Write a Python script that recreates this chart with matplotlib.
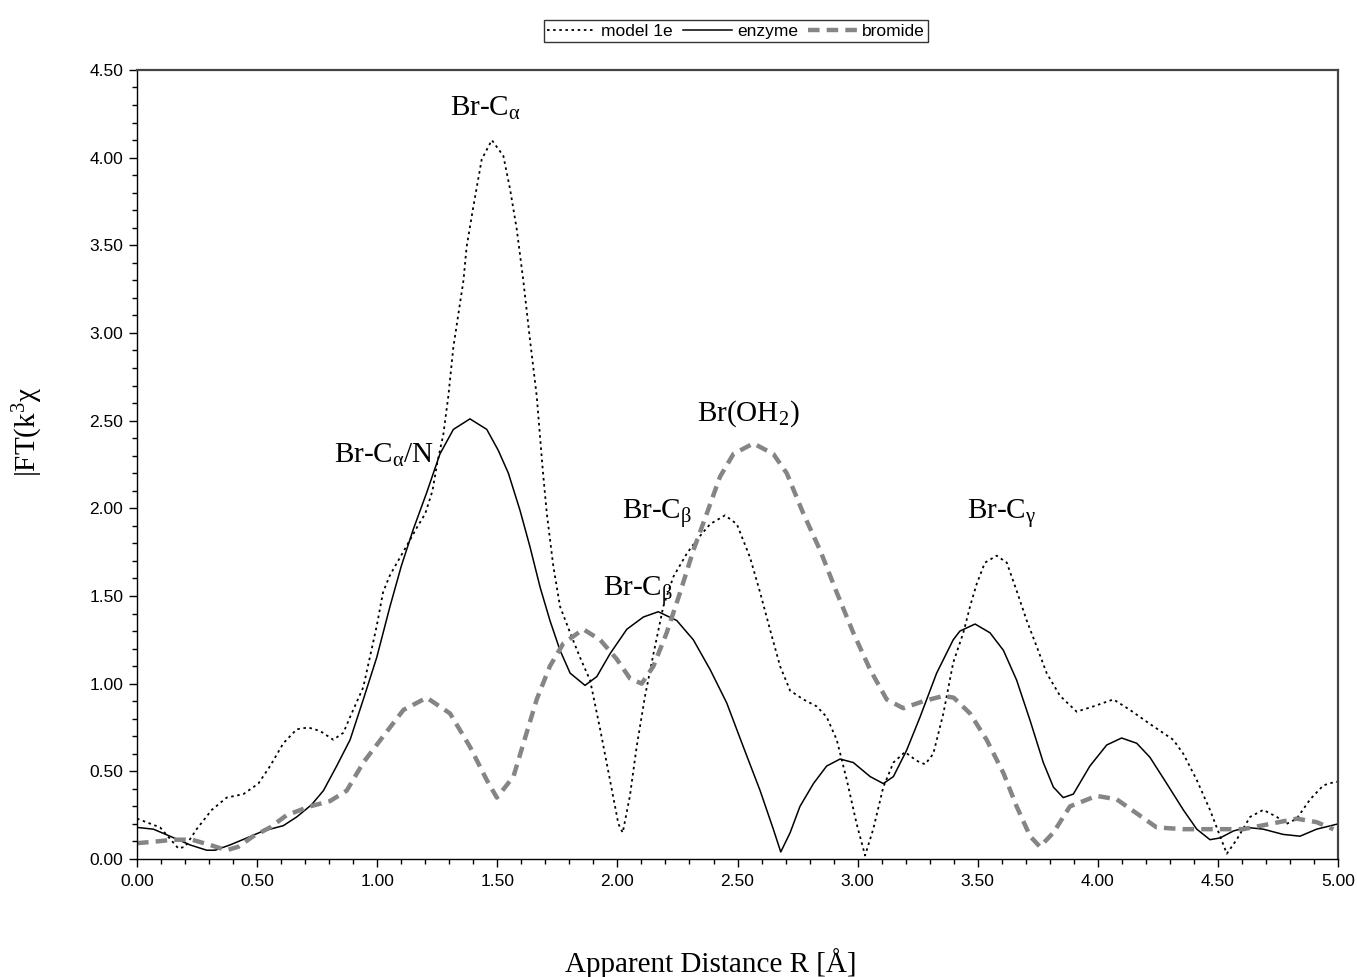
import numpy as np
import matplotlib
matplotlib.use("Agg")
import matplotlib.pyplot as plt
from matplotlib.ticker import MultipleLocator, FormatStrFormatter

plt.rcParams['font.family'] = ['Liberation Sans', 'DejaVu Sans']
plt.rcParams['mathtext.fontset'] = 'custom'
plt.rcParams['mathtext.rm'] = 'Liberation Serif'
plt.rcParams['mathtext.it'] = 'Liberation Serif:italic'
plt.rcParams['mathtext.bf'] = 'Liberation Serif:bold'

# model 1e (dotted)
model_r = [0.00, 0.096, 0.172, 0.20, 0.248, 0.311, 0.373, 0.443, 0.505, 0.554,
           0.609, 0.665, 0.713, 0.762, 0.817, 0.859, 0.887, 0.942, 0.998, 1.024,
           1.05, 1.07, 1.12, 1.165, 1.20, 1.23, 1.25, 1.275, 1.296, 1.317,
           1.338, 1.359, 1.372, 1.400, 1.435, 1.477, 1.525, 1.553, 1.581, 1.608,
           1.636, 1.664, 1.689, 1.706, 1.733, 1.761, 1.803, 1.844, 1.886, 1.928,
           1.969, 2.004, 2.022, 2.052, 2.080, 2.115, 2.150, 2.191, 2.233, 2.288,
           2.330, 2.386, 2.448, 2.497, 2.552, 2.594, 2.635, 2.677, 2.719, 2.774,
           2.830, 2.871, 2.913, 2.955, 2.996, 3.031, 3.065, 3.107, 3.149, 3.197,
           3.246, 3.281, 3.315, 3.357, 3.398, 3.440, 3.470, 3.496, 3.530, 3.579,
           3.621, 3.662, 3.704, 3.746, 3.787, 3.843, 3.912, 3.981, 4.065, 4.134,
           4.217, 4.314, 4.356, 4.412, 4.467, 4.509, 4.537, 4.578, 4.634, 4.689,
           4.745, 4.786, 4.828, 4.884, 4.939, 4.988, 5.00]
model_ft = [0.23, 0.18, 0.06, 0.07, 0.17, 0.28, 0.35, 0.37, 0.43, 0.53,
            0.66, 0.74, 0.75, 0.73, 0.68, 0.72, 0.81, 0.98, 1.33, 1.52,
            1.61, 1.66, 1.78, 1.89, 1.97, 2.10, 2.26, 2.42, 2.64, 2.92,
            3.11, 3.30, 3.49, 3.72, 3.99, 4.10, 4.01, 3.82, 3.59, 3.30,
            2.96, 2.64, 2.22, 1.97, 1.67, 1.44, 1.29, 1.15, 1.02, 0.74,
            0.45, 0.20, 0.15, 0.36, 0.64, 0.93, 1.17, 1.44, 1.61, 1.74,
            1.82, 1.91, 1.96, 1.91, 1.72, 1.52, 1.31, 1.10, 0.96, 0.91,
            0.87, 0.81, 0.68, 0.45, 0.20, 0.02, 0.17, 0.41, 0.55, 0.61,
            0.56, 0.54, 0.60, 0.83, 1.12, 1.29, 1.45, 1.57, 1.69, 1.73,
            1.69, 1.53, 1.36, 1.21, 1.06, 0.93, 0.84, 0.87, 0.91, 0.85,
            0.77, 0.68, 0.60, 0.45, 0.28, 0.13, 0.03, 0.11, 0.24, 0.28,
            0.24, 0.20, 0.23, 0.34, 0.42, 0.44, 0.44]

# enzyme (solid)
enzyme_r = [0.00, 0.068, 0.137, 0.221, 0.290, 0.325, 0.387, 0.457, 0.526, 0.609,
            0.665, 0.727, 0.776, 0.831, 0.887, 0.942, 0.998, 1.053, 1.10, 1.150,
            1.206, 1.261, 1.317, 1.386, 1.456, 1.504, 1.546, 1.594, 1.636, 1.678,
            1.719, 1.761, 1.803, 1.865, 1.914, 1.969, 2.039, 2.108, 2.170, 2.247,
            2.316, 2.386, 2.455, 2.524, 2.594, 2.649, 2.680, 2.719, 2.760, 2.816,
            2.871, 2.927, 2.982, 3.052, 3.107, 3.149, 3.204, 3.260, 3.329, 3.398,
            3.426, 3.489, 3.551, 3.607, 3.662, 3.718, 3.773, 3.815, 3.856, 3.898,
            3.967, 4.037, 4.099, 4.162, 4.217, 4.287, 4.356, 4.412, 4.467, 4.509,
            4.565, 4.620, 4.689, 4.772, 4.842, 4.911, 5.00]
enzyme_ft = [0.18, 0.17, 0.13, 0.08, 0.05, 0.05, 0.08, 0.12, 0.16, 0.19,
             0.24, 0.31, 0.39, 0.53, 0.68, 0.91, 1.15, 1.44, 1.67, 1.88,
             2.09, 2.31, 2.45, 2.51, 2.45, 2.33, 2.20, 1.99, 1.78, 1.55,
             1.36, 1.19, 1.06, 0.99, 1.04, 1.17, 1.31, 1.38, 1.41, 1.36,
             1.25, 1.08, 0.89, 0.64, 0.39, 0.17, 0.04, 0.15, 0.30, 0.43,
             0.53, 0.57, 0.55, 0.47, 0.43, 0.47, 0.62, 0.81, 1.06, 1.25,
             1.30, 1.34, 1.29, 1.19, 1.02, 0.79, 0.55, 0.41, 0.35, 0.37,
             0.53, 0.65, 0.69, 0.66, 0.58, 0.43, 0.28, 0.17, 0.11, 0.12,
             0.16, 0.18, 0.17, 0.14, 0.13, 0.17, 0.20]

# bromide (grey dashed)
bromide_r = [0.00, 0.082, 0.151, 0.228, 0.304, 0.373, 0.422, 0.484, 0.554, 0.623,
             0.720, 0.803, 0.873, 0.942, 1.025, 1.109, 1.206, 1.303, 1.386, 1.456,
             1.498, 1.567, 1.622, 1.664, 1.719, 1.775, 1.858, 1.928, 1.997, 2.052,
             2.101, 2.150, 2.205, 2.261, 2.316, 2.372, 2.427, 2.483, 2.566, 2.649,
             2.705, 2.774, 2.844, 2.913, 2.982, 3.052, 3.121, 3.190, 3.274, 3.357,
             3.40, 3.468, 3.537, 3.607, 3.662, 3.718, 3.759, 3.815, 3.884, 3.995,
             4.079, 4.162, 4.245, 4.356, 4.495, 4.606, 4.717, 4.828, 4.911, 4.981]
bromide_ft = [0.09, 0.10, 0.11, 0.11, 0.08, 0.05, 0.07, 0.13, 0.18, 0.25,
              0.30, 0.33, 0.39, 0.55, 0.70, 0.85, 0.92, 0.83, 0.64, 0.45,
              0.35, 0.47, 0.72, 0.91, 1.10, 1.23, 1.31, 1.25, 1.14, 1.03,
              1.00, 1.10, 1.29, 1.52, 1.76, 1.97, 2.18, 2.31, 2.37, 2.31,
              2.20, 1.97, 1.76, 1.52, 1.29, 1.08, 0.91, 0.86, 0.90, 0.93,
              0.92, 0.83, 0.68, 0.49, 0.30, 0.13, 0.07, 0.15, 0.30, 0.36,
              0.34, 0.26, 0.18, 0.17, 0.17, 0.17, 0.20, 0.23, 0.21, 0.17]

# peak labels
peak_labels = [r'Br-C$_{\mathrm{\alpha}}$', r'Br-C$_{\mathrm{\alpha}}$/N', r'Br(OH$_{2}$)',
               r'Br-C$_{\mathrm{\beta}}$', r'Br-C$_{\mathrm{\beta}}$', r'Br-C$_{\mathrm{\gamma}}$']
peak_r = [1.449, 1.03, 2.544, 2.165, 2.086, 3.60]
peak_ft = [4.28, 2.30, 2.54, 1.97, 1.53, 1.97]

fig = plt.figure(figsize=(13.57, 9.77), dpi=100)
ax = fig.add_axes([0.101, 0.1208, 0.885, 0.8076])

l1, = ax.plot(model_r, model_ft, color='black', lw=1.3, linestyle=(0, (1.4, 2.0)))
l2, = ax.plot(enzyme_r, enzyme_ft, color='black', lw=1.1)
l3, = ax.plot(bromide_r, bromide_ft, color='#858585', lw=3.2, linestyle=(0, (2.6, 1.6)))

for txt, xr, yf in zip(peak_labels, peak_r, peak_ft):
    ax.text(xr, yf, txt, family='Liberation Serif', fontsize=21, ha='center', va='center')

ax.set_xlim(0, 5)
ax.set_ylim(0, 4.5)
ax.xaxis.set_major_locator(MultipleLocator(0.5))
ax.xaxis.set_minor_locator(MultipleLocator(0.1))
ax.yaxis.set_major_locator(MultipleLocator(0.5))
ax.yaxis.set_minor_locator(MultipleLocator(0.1))
ax.xaxis.set_major_formatter(FormatStrFormatter('%.2f'))
ax.yaxis.set_major_formatter(FormatStrFormatter('%.2f'))
ax.tick_params(which='major', direction='out', length=6, width=1, labelsize=12.5, pad=5)
ax.tick_params(which='minor', direction='out', length=3.5, width=1)
ax.tick_params(axis='y', which='major', pad=4)

for s in ['top', 'right']:
    ax.spines[s].set_color('#444444')
    ax.spines[s].set_linewidth(1.6)
for s in ['left', 'bottom']:
    ax.spines[s].set_color('black')
    ax.spines[s].set_linewidth(1.0)

fig.text(711 / 1357, 1 - 963 / 977, 'Apparent Distance R [Å]', family='Liberation Serif',
         fontsize=21, ha='center', va='center')
fig.text(28 / 1357, 1 - 432 / 977, r'|FT(k$^{3}$$\mathrm{\chi}$', family='Liberation Serif',
         fontsize=21, ha='center', va='center', rotation=90)

leg = fig.legend([l1, l2, l3], ['model 1e', 'enzyme', 'bromide'], loc='center',
                 bbox_to_anchor=(736 / 1357, 1 - 31 / 977), ncol=3, fontsize=12.5,
                 frameon=True, fancybox=False, handlelength=2.8, handletextpad=0.3,
                 columnspacing=0.6, borderpad=0.2, borderaxespad=0)
leg.get_frame().set_edgecolor('black')
leg.get_frame().set_linewidth(1.0)

fig.savefig('out.png', dpi=100)
